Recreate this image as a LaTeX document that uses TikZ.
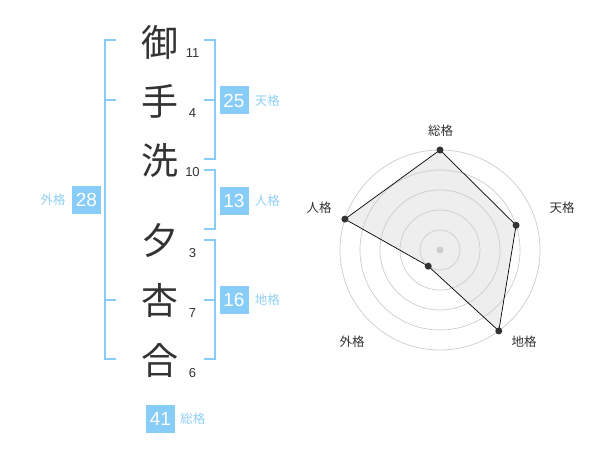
\documentclass[tikz,border=0pt]{standalone}
\usepackage{fontspec}
\usetikzlibrary{positioning,calc}
\setmainfont{Liberation Sans}
\newfontfamily\cjk{Noto Sans CJK JP}
\definecolor{blu}{HTML}{88CCF8}
\definecolor{lblu}{HTML}{8FD0F5}
\definecolor{ink}{HTML}{333333}
\definecolor{ring}{HTML}{CCCCCC}
\definecolor{area}{HTML}{EEEEEE}
\begin{document}
\begin{tikzpicture}[x=1pt,y=-1pt,
  kanji/.style={font=\cjk\fontsize{37}{37}\selectfont, text=ink, inner sep=0},
  strk/.style={font=\fontsize{13}{13}\selectfont, text=ink, inner sep=0},
  valbox/.style={fill=blu, text=white, font=\fontsize{19}{19}\selectfont, minimum width=29pt, minimum height=28pt, inner sep=0},
  kaku/.style={font=\cjk\fontsize{12.5}{12.5}\selectfont, text=lblu, inner sep=0},
  brk/.style={draw=blu, line width=1.6pt},
  rlabel/.style={font=\cjk\fontsize{12.5}{12.5}\selectfont, text=ink, inner sep=0},
  ringline/.style={draw=ring, line width=0.7pt},
  dot/.style={circle, fill=ink, inner sep=0, minimum size=7pt}]
\useasboundingbox (0,0) rectangle (600,470);
% characters
\node[kanji] (k1) at (160,42) {御};
\node[kanji] (k2) at (160,101) {手};
\node[kanji] (k3) at (160,160) {洗};
\node[kanji] (k4) at (160,241) {夕};
\node[kanji] (k5) at (160,300) {杏};
\node[kanji] (k6) at (160,360) {合};
% strokes
\node[strk] (s1) at (192.5,53) {11};
\node[strk] (s2) at (192.5,113) {4};
\node[strk] (s3) at (192.5,172) {10};
\node[strk] (s4) at (192.5,253) {3};
\node[strk] (s5) at (192.5,313) {7};
\node[strk] (s6) at (192.5,373) {6};
% brackets
\draw[brk] (116,40) -- (105,40) -- (105,359) -- (116,359);
\draw[brk] (105,100) -- (116,100);
\draw[brk] (105,300) -- (116,300);
\draw[brk] (204,40) -- (215,40) -- (215,159) -- (204,159);
\draw[brk] (204,100) -- (215,100);
\draw[brk] (204,170) -- (215,170) -- (215,229) -- (204,229);
\draw[brk] (204,240) -- (215,240) -- (215,359) -- (204,359);
\draw[brk] (204,300) -- (215,300);
% value boxes
\node[valbox] (ten) at (234,100.5) {25};
\node[kaku, right=6pt of ten] (tenl) {天格};
\node[valbox] (jin) at (234,201) {13};
\node[kaku, right=6pt of jin] (jinl) {人格};
\node[valbox] (chi) at (234,300) {16};
\node[kaku, right=6pt of chi] (chil) {地格};
\node[valbox] (gai) at (86.5,200) {28};
\node[kaku, left=6pt of gai] (gail) {外格};
\node[valbox] (sou) at (160.5,419) {41};
\node[kaku, right=5pt of sou] (soul) {総格};
% radar
\coordinate (c) at (440,250);
\coordinate (pS) at ($(c)+(-90:100)$);
\coordinate (pT) at ($(c)+(-18:80)$);
\coordinate (pC) at ($(c)+(54:100)$);
\coordinate (pG) at ($(c)+(126:20)$);
\coordinate (pJ) at ($(c)+(198:100)$);
\fill[area] (pS) -- (pT) -- (pC) -- (pG) -- (pJ) -- cycle;
\foreach \r in {20,40,60,80,100} \draw[ringline] (c) circle[radius=\r pt];
\fill[ring] (c) circle[radius=3.5pt];
\draw[black, line width=0.7pt] (pS) -- (pT) -- (pC) -- (pG) -- (pJ) -- cycle;
\foreach \p in {pS,pT,pC,pG,pJ} \node[dot] at (\p) {};
\node[rlabel] (lS) at (440.7,130.5) {総格};
\node[rlabel] (lT) at (562,208) {天格};
\node[rlabel] (lC) at (524,342) {地格};
\node[rlabel] (lG) at (352,342) {外格};
\node[rlabel] (lJ) at (319,208) {人格};
\end{tikzpicture}
\end{document}
